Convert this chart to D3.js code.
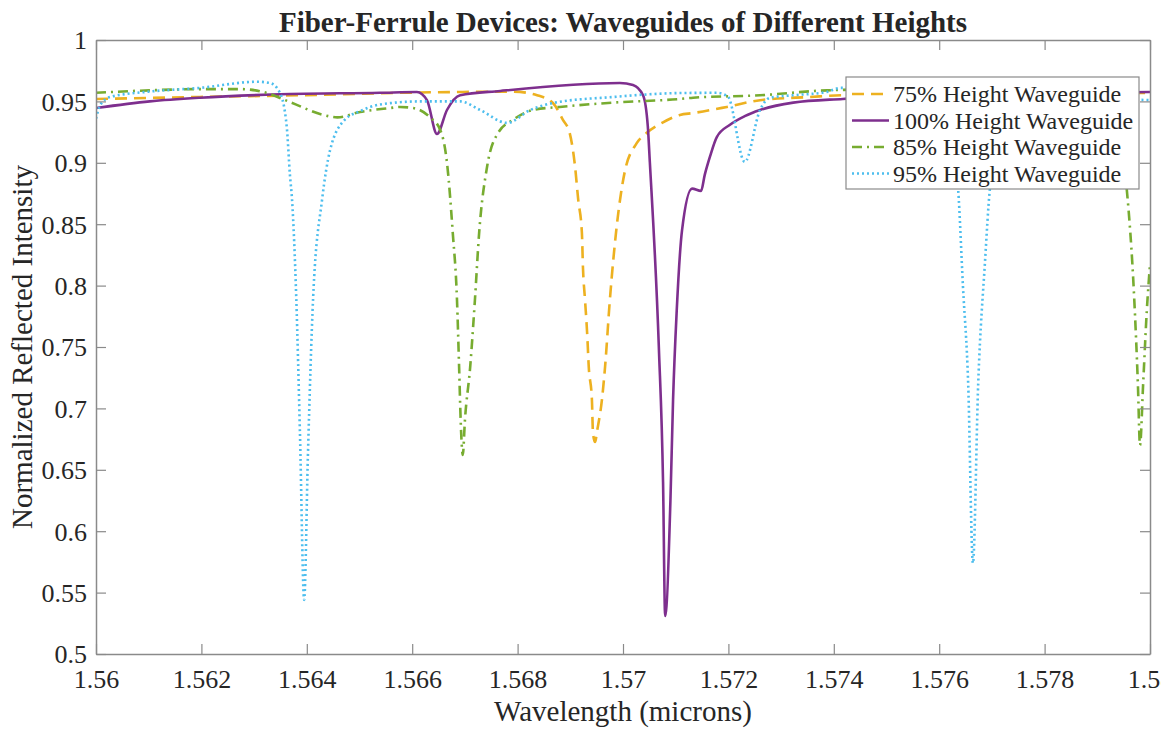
<!DOCTYPE html>
<html>
<head>
<meta charset="utf-8">
<script src="https://cdn.jsdelivr.net/npm/d3@7"></script>
<style>
  html, body { margin: 0; padding: 0; background: #fff; }
  svg { display: block; }
  text { font-family: "Liberation Serif", "Times New Roman", serif; fill: #262626; }
</style>
</head>
<body>
<svg id="chart" width="1173" height="732"></svg>
<script>
// ---------- data ----------
const chartTitle = "Fiber-Ferrule Devices: Waveguides of Different Heights";
const xLabel = "Wavelength (microns)";
const yLabel = "Normalized Reflected Intensity";

const xTicks = [1.56, 1.562, 1.564, 1.566, 1.568, 1.57, 1.572, 1.574, 1.576, 1.578, 1.58];
const xTickLabels = ["1.56", "1.562", "1.564", "1.566", "1.568", "1.57", "1.572", "1.574", "1.576", "1.578", "1.58"];
const yTicks = [0.5, 0.55, 0.6, 0.65, 0.7, 0.75, 0.8, 0.85, 0.9, 0.95, 1];
const yTickLabels = ["0.5", "0.55", "0.6", "0.65", "0.7", "0.75", "0.8", "0.85", "0.9", "0.95", "1"];

const seriesNames = ["75% Height Waveguide", "100% Height Waveguide", "85% Height Waveguide", "95% Height Waveguide"];

// 75% height (yellow, dashed)
const wl75 = [1.56000, 1.56197, 1.56387, 1.56577, 1.56696, 1.56791, 1.56837, 1.56867, 1.56886, 1.56899,
  1.56909, 1.56915, 1.56922, 1.56924, 1.56928, 1.56932, 1.56935, 1.56941, 1.56943, 1.56947,
  1.56951, 1.56960, 1.56966, 1.56975, 1.56988, 1.57003, 1.57026, 1.57044, 1.57076, 1.57108,
  1.57133, 1.57197, 1.57260, 1.57355, 1.57417, 1.57715, 1.58000];
const val75 = [0.952, 0.9536, 0.955, 0.957, 0.9577, 0.958, 0.955, 0.9487, 0.935, 0.924,
  0.897, 0.870, 0.843, 0.815, 0.788, 0.761, 0.734, 0.707, 0.680, 0.6726,
  0.682, 0.707, 0.734, 0.788, 0.848, 0.892, 0.916, 0.924, 0.933, 0.939,
  0.9405, 0.9455, 0.951, 0.9536, 0.955, 0.956, 0.957];

// 100% height (purple, solid)
const wl100 = [1.56000, 1.56102, 1.56197, 1.56368, 1.56539, 1.56609, 1.56628, 1.56647, 1.56666, 1.56691,
  1.56767, 1.56994, 1.57019, 1.57038, 1.57047, 1.57051, 1.57068, 1.57076, 1.57080, 1.57090,
  1.57095, 1.57102, 1.57112, 1.57131, 1.57148, 1.57155, 1.57165, 1.57178, 1.57203, 1.57231,
  1.57260, 1.57323, 1.57417, 1.57621, 1.58000];
const val100 = [0.9446, 0.950, 0.953, 0.956, 0.957, 0.9577, 0.951, 0.9235, 0.943, 0.955,
  0.9585, 0.965, 0.9634, 0.955, 0.93, 0.90, 0.75, 0.64, 0.531, 0.625,
  0.707, 0.78, 0.845, 0.879, 0.877, 0.89, 0.905, 0.921, 0.931, 0.938,
  0.943, 0.949, 0.952, 0.955, 0.9577];

// 85% height (green, dash-dot)
const wl85 = [1.56000, 1.56102, 1.56197, 1.56273, 1.56317, 1.56368, 1.56431, 1.56458, 1.56501, 1.56558,
  1.56577, 1.56602, 1.56634, 1.56653, 1.56666, 1.56677, 1.56685, 1.56689, 1.56692, 1.56696,
  1.56700, 1.56710, 1.56719, 1.56727, 1.56742, 1.56763, 1.56791, 1.56829, 1.56880, 1.56981,
  1.57108, 1.57133, 1.57260, 1.57387, 1.57526, 1.57715, 1.57905, 1.57943, 1.57956, 1.57970,
  1.57977, 1.57981, 1.57987, 1.57994, 1.58000];
const val85 = [0.957, 0.959, 0.960, 0.960, 0.9577, 0.9495, 0.939, 0.937, 0.9414, 0.9446,
  0.9455, 0.9446, 0.937, 0.927, 0.90, 0.8428, 0.7883, 0.7337, 0.690, 0.662,
  0.690, 0.7337, 0.7883, 0.8428, 0.8966, 0.9243, 0.9349, 0.943, 0.9455, 0.949,
  0.952, 0.953, 0.955, 0.959, 0.960, 0.958, 0.950, 0.920, 0.878, 0.79,
  0.72, 0.670, 0.72, 0.78, 0.817];

// 95% height (blue, dotted)
const wl95 = [1.56000, 1.56008, 1.56027, 1.56102, 1.56197, 1.56306, 1.56330, 1.56349, 1.56362, 1.56368,
  1.56372, 1.56380, 1.56387, 1.56395, 1.56402, 1.56412, 1.56429, 1.56444, 1.56472, 1.56501,
  1.56539, 1.56615, 1.56691, 1.56729, 1.56780, 1.56824, 1.56867, 1.56981, 1.57108, 1.57178,
  1.57199, 1.57231, 1.57260, 1.57279, 1.57323, 1.57387, 1.57412, 1.57526, 1.57607, 1.57622,
  1.57636, 1.57645, 1.57655, 1.57664, 1.57674, 1.57687, 1.57696, 1.57715, 1.57753, 1.57810,
  1.57905, 1.58000];
const val95 = [0.936, 0.947, 0.9536, 0.958, 0.961, 0.966, 0.965, 0.957, 0.929, 0.89,
  0.87, 0.79, 0.68, 0.544, 0.66, 0.79, 0.87, 0.91, 0.935, 0.942,
  0.9475, 0.950, 0.950, 0.943, 0.9325, 0.943, 0.9487, 0.9536, 0.9568, 0.957,
  0.954, 0.9007, 0.943, 0.953, 0.955, 0.9577, 0.961, 0.960, 0.955, 0.92,
  0.878, 0.80, 0.72, 0.574, 0.72, 0.82, 0.878, 0.92, 0.94, 0.948,
  0.952, 0.951];

const seriesWl = [wl75, wl100, wl85, wl95];
const seriesVal = [val75, val100, val85, val95];
const seriesColors = ["#EDB120", "#7E2F8E", "#77AC30", "#4DBEEE"];
const seriesDash = ["12,7", null, "10,5,2,5", "2,3"];

// ---------- layout ----------
const svg = d3.select("#chart");
const mLeft = 96, mRight = 1150, mTop = 40, mBottom = 654;
const x = d3.scaleLinear().domain([1.56, 1.58]).range([mLeft, mRight]);
const y = d3.scaleLinear().domain([0.5, 1]).range([mBottom, mTop]);
const axisColor = "#8a8a8a";

svg.append("rect").attr("width", 1173).attr("height", 732).attr("fill", "#fff");

const defs = svg.append("defs");
defs.append("clipPath").attr("id", "plotclip")
  .append("rect").attr("x", mLeft).attr("y", mTop).attr("width", mRight - mLeft).attr("height", mBottom - mTop);
// the source picture is cropped just past the right axis
defs.append("clipPath").attr("id", "pageclip")
  .append("rect").attr("x", 0).attr("y", 0).attr("width", 1161).attr("height", 732);

// lines
const lineGen = d3.line().x(d => x(d[0])).y(d => y(d[1])).curve(d3.curveMonotoneX);
const lineG = svg.append("g").attr("clip-path", "url(#plotclip)");
seriesWl.forEach((wl, i) => {
  const pts = wl.map((w, j) => [w, seriesVal[i][j]]);
  const p = lineG.append("path").datum(pts)
    .attr("d", lineGen)
    .attr("fill", "none")
    .attr("stroke", seriesColors[i])
    .attr("stroke-width", 2.6)
    .attr("stroke-linejoin", "round");
  if (seriesDash[i]) p.attr("stroke-dasharray", seriesDash[i]);
});

// axes
function styleAxis(g) {
  g.selectAll(".domain").attr("stroke", axisColor).attr("stroke-width", 1.5);
  g.selectAll(".tick line").attr("stroke", axisColor).attr("stroke-width", 1.2);
}
const gx = svg.append("g").attr("transform", `translate(0,${mBottom})`)
  .call(d3.axisBottom(x).tickValues(xTicks).tickSizeInner(-10).tickSizeOuter(0)
    .tickFormat((d, i) => xTickLabels[i]));
styleAxis(gx);
gx.selectAll("text").attr("y", 34).attr("dy", 0).attr("font-size", 26)
  .attr("font-family", "Liberation Serif").attr("fill", "#262626");
svg.append("g").attr("clip-path", "url(#pageclip)").node().appendChild(gx.node());

const gxt = svg.append("g").attr("transform", `translate(0,${mTop})`)
  .call(d3.axisTop(x).tickValues(xTicks).tickSizeInner(-10).tickSizeOuter(0).tickFormat(""));
styleAxis(gxt);

const gy = svg.append("g").attr("transform", `translate(${mLeft},0)`)
  .call(d3.axisLeft(y).tickValues(yTicks).tickSizeInner(-10).tickSizeOuter(0)
    .tickFormat((d, i) => yTickLabels[i]));
styleAxis(gy);
gy.selectAll("text").attr("x", -9).attr("dy", "0.34em").attr("font-size", 26)
  .attr("font-family", "Liberation Serif").attr("fill", "#262626");

const gyr = svg.append("g").attr("transform", `translate(${mRight},0)`)
  .call(d3.axisRight(y).tickValues(yTicks).tickSizeInner(-10).tickSizeOuter(0).tickFormat(""));
styleAxis(gyr);

// titles
svg.append("text").attr("x", (mLeft + mRight) / 2).attr("y", 32)
  .attr("text-anchor", "middle").attr("font-size", 29).attr("font-weight", "bold")
  .attr("fill", "#000").text(chartTitle);
svg.append("text").attr("x", (mLeft + mRight) / 2).attr("y", 721)
  .attr("text-anchor", "middle").attr("font-size", 29).text(xLabel);
svg.append("text").attr("transform", `translate(32,${(mTop + mBottom) / 2}) rotate(-90)`)
  .attr("text-anchor", "middle").attr("font-size", 29).text(yLabel);

// legend
const lg = svg.append("g");
lg.append("rect").attr("x", 846).attr("y", 77).attr("width", 293).attr("height", 112)
  .attr("fill", "#fff").attr("stroke", axisColor).attr("stroke-width", 1.2);
seriesNames.forEach((name, i) => {
  const cy = 94 + i * 26.5;
  const l = lg.append("line").attr("x1", 852).attr("x2", 889).attr("y1", cy).attr("y2", cy)
    .attr("stroke", seriesColors[i]).attr("stroke-width", 2.6);
  if (seriesDash[i]) l.attr("stroke-dasharray", seriesDash[i]);
  lg.append("text").attr("x", 893).attr("y", cy + 8).attr("font-size", 24).text(name);
});
</script>
</body>
</html>
